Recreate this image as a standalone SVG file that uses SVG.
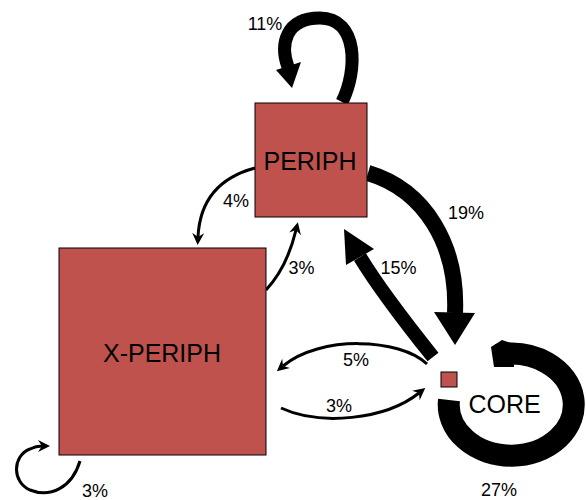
<svg xmlns="http://www.w3.org/2000/svg" width="586" height="500" viewBox="0 0 586 500">
  <defs>
    <style>
      .node { fill: #C0524E; stroke: #000; stroke-width: 1; }
      .name { font-family: "Liberation Sans", Arial, Helvetica, sans-serif; font-size: 25px; fill: #000; text-anchor: middle; }
      .pct { font-family: "Liberation Sans", Arial, Helvetica, sans-serif; font-size: 18px; fill: #000; text-anchor: middle; }
      .edge { fill: none; stroke: #000; stroke-linecap: butt; }
      .thin { stroke-width: 3; marker-end: url(#barb); }
      .head { fill: #000; stroke: none; }
    </style>
    <!-- small barbed head for the light edges; path ends at the notch -->
    <marker id="barb" markerUnits="userSpaceOnUse" viewBox="-10 -7 18 14" refX="0" refY="0" markerWidth="18" markerHeight="14" orient="auto">
      <path d="M8,0 L-4,-6 L0,0 L-4,6 Z" fill="#000"/>
    </marker>
  </defs>
  <rect width="586" height="500" fill="#fff"/>

  <g id="connectors">
    <!-- PERIPH self loop 11% -->
    <path class="edge" stroke-width="13" d="M342,102 C358,70 358,18 320,18 C285,18 280,45 288,67"/>
    <polygon class="head" points="276,70 301,62 292,88"/>

    <!-- PERIPH to X-PERIPH 4% -->
    <path class="edge thin" d="M255,168 C225,176 200,195 198,237"/>

    <!-- X-PERIPH to PERIPH 3% -->
    <path class="edge thin" stroke-width="2.5" d="M266,290 C280,275 290,255 296,230"/>

    <!-- PERIPH to CORE 19% -->
    <path class="edge" stroke-width="16" d="M368,173 C425,190 458,245 455,313"/>
    <polygon class="head" points="434,312 475,313 455,345"/>

    <!-- CORE to PERIPH 15% -->
    <path class="edge" stroke-width="14" d="M433,357 C405,322 380,290 360,257"/>
    <polygon class="head" points="344,229 374,249 346,265"/>

    <!-- CORE to X-PERIPH 5% -->
    <path class="edge thin" d="M427,364 C400,338 320,335 283,366"/>

    <!-- X-PERIPH to CORE 3% -->
    <path class="edge thin" stroke-width="2.5" d="M281,408 C320,426 385,420 419,393"/>

    <!-- CORE self loop 27% -->
    <path class="edge" stroke-width="22" d="M449,400 A62.5,51 0 1 0 497,355"/>
    <polygon class="head" points="491,347 502,340 514,344 514,367 494,367"/>

    <!-- X-PERIPH self loop 3% -->
    <path class="edge thin" stroke-width="2.5" d="M80,461 C72,488 50,498 30,490 C12,482 12,456 30,449 C34,447 38,446 42,446"/>
  </g>

  <g id="node-periph">
    <rect class="node" x="255" y="103" width="112" height="114"/>
    <text class="name" x="310" y="169.5">PERIPH</text>
  </g>
  <g id="node-xperiph">
    <rect class="node" x="59" y="248" width="207" height="207"/>
    <text class="name" x="162" y="362">X-PERIPH</text>
  </g>
  <g id="node-core">
    <rect class="node" x="441" y="372" width="16" height="15"/>
    <text class="name" x="504.5" y="413">CORE</text>
  </g>

  <g id="labels">
    <text class="pct" x="265" y="30">11%</text>
    <text class="pct" x="236" y="207">4%</text>
    <text class="pct" x="466" y="219">19%</text>
    <text class="pct" x="301.5" y="274">3%</text>
    <text class="pct" x="398.5" y="274">15%</text>
    <text class="pct" x="356" y="366">5%</text>
    <text class="pct" x="339" y="411.5">3%</text>
    <text class="pct" x="499" y="496">27%</text>
    <text class="pct" x="95" y="497">3%</text>
  </g>
</svg>
